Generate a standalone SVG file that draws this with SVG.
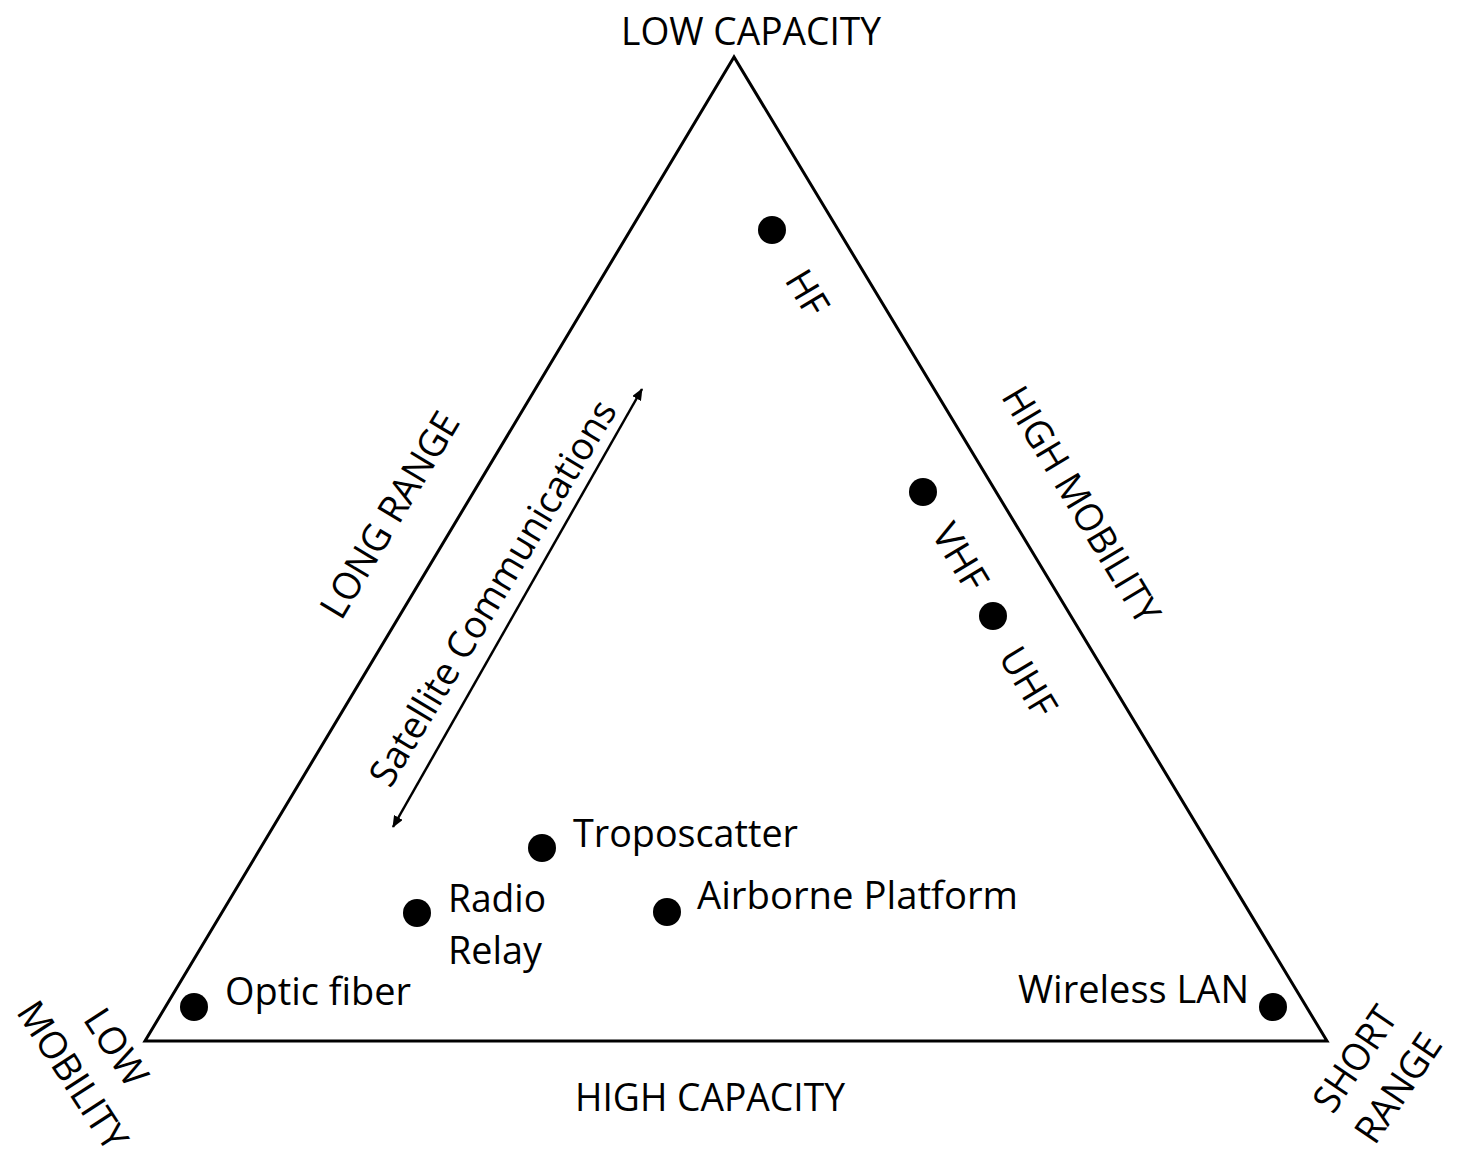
<svg xmlns="http://www.w3.org/2000/svg" width="1461" height="1170" viewBox="0 0 1461 1170">
<style>
  text { font-family: "Open Sans", "Noto Sans", "Liberation Sans", sans-serif; font-size: 38px; fill: #000; }
  .mid { text-anchor: middle; }
  .dot { fill: #000; }
  .edge { fill: none; stroke: #000; stroke-width: 3; stroke-linejoin: miter; }
  .arrow { stroke: #000; stroke-width: 2.5; fill: none; }
</style>
<defs>
  <marker id="ah" viewBox="0 0 12 10" refX="11" refY="5" markerWidth="12" markerHeight="10" markerUnits="userSpaceOnUse" orient="auto-start-reverse">
    <path d="M0,0 L12,5 L0,10 Z" fill="#000"/>
  </marker>
</defs>
<rect width="1461" height="1170" fill="#fff"/>
<g id="triangle">
  <polygon class="edge" points="734,57 145,1041 1327,1041"/>
</g>
<g id="connectors">
  <line class="arrow" x1="393" y1="827" x2="642" y2="389" marker-start="url(#ah)" marker-end="url(#ah)"/>
</g>
<g id="corner-labels">
  <text class="mid" x="751" y="45" textLength="260" lengthAdjust="spacingAndGlyphs">LOW CAPACITY</text>
  <text class="mid" x="710" y="1111" textLength="270" lengthAdjust="spacingAndGlyphs">HIGH CAPACITY</text>
  <g transform="translate(95,1061) rotate(57)">
    <text class="mid" x="0" y="-12" textLength="84" lengthAdjust="spacingAndGlyphs">LOW</text>
    <text class="mid" x="0" y="40" textLength="169" lengthAdjust="spacingAndGlyphs">MOBILITY</text>
  </g>
  <g transform="translate(1376,1073) rotate(-56)">
    <text class="mid" x="0" y="-12" textLength="118" lengthAdjust="spacingAndGlyphs">SHORT</text>
    <text class="mid" x="0" y="40" textLength="123" lengthAdjust="spacingAndGlyphs">RANGE</text>
  </g>
</g>
<g id="side-labels">
  <text class="mid" transform="translate(390,515) rotate(-59)" x="0" y="13" textLength="233" lengthAdjust="spacingAndGlyphs">LONG RANGE</text>
  <text class="mid" transform="translate(1081,505) rotate(59)" x="0" y="13" textLength="269" lengthAdjust="spacingAndGlyphs">HIGH MOBILITY</text>
</g>
<g id="satcom">
  <text class="mid" transform="translate(493,593) rotate(-59)" x="0" y="13" textLength="442" lengthAdjust="spacingAndGlyphs">Satellite Communications</text>
</g>
<g id="hf">
  <circle class="dot" cx="772" cy="230" r="14"/>
  <text class="mid" transform="translate(807,293) rotate(59)" x="0" y="13" textLength="46" lengthAdjust="spacingAndGlyphs">HF</text>
</g>
<g id="vhf">
  <circle class="dot" cx="923" cy="492" r="14"/>
  <text class="mid" transform="translate(960,557) rotate(59)" x="0" y="13" textLength="71" lengthAdjust="spacingAndGlyphs">VHF</text>
</g>
<g id="uhf">
  <circle class="dot" cx="993" cy="616" r="14"/>
  <text class="mid" transform="translate(1028,682) rotate(59)" x="0" y="13" textLength="74" lengthAdjust="spacingAndGlyphs">UHF</text>
</g>
<g id="troposcatter">
  <circle class="dot" cx="542" cy="848" r="14"/>
  <text x="573" y="847" textLength="225" lengthAdjust="spacingAndGlyphs">Troposcatter</text>
</g>
<g id="radio-relay">
  <circle class="dot" cx="417" cy="913" r="14"/>
  <text x="448" y="912" textLength="98" lengthAdjust="spacingAndGlyphs">Radio</text>
  <text x="448" y="964" textLength="94" lengthAdjust="spacingAndGlyphs">Relay</text>
</g>
<g id="airborne-platform">
  <circle class="dot" cx="667" cy="912" r="14"/>
  <text x="697" y="909" textLength="321" lengthAdjust="spacingAndGlyphs">Airborne Platform</text>
</g>
<g id="optic-fiber">
  <circle class="dot" cx="194" cy="1007" r="14"/>
  <text x="225" y="1005" textLength="186" lengthAdjust="spacingAndGlyphs">Optic fiber</text>
</g>
<g id="wireless-lan">
  <circle class="dot" cx="1273" cy="1007" r="14"/>
  <text x="1018" y="1003" textLength="231" lengthAdjust="spacingAndGlyphs">Wireless LAN</text>
</g>
</svg>
